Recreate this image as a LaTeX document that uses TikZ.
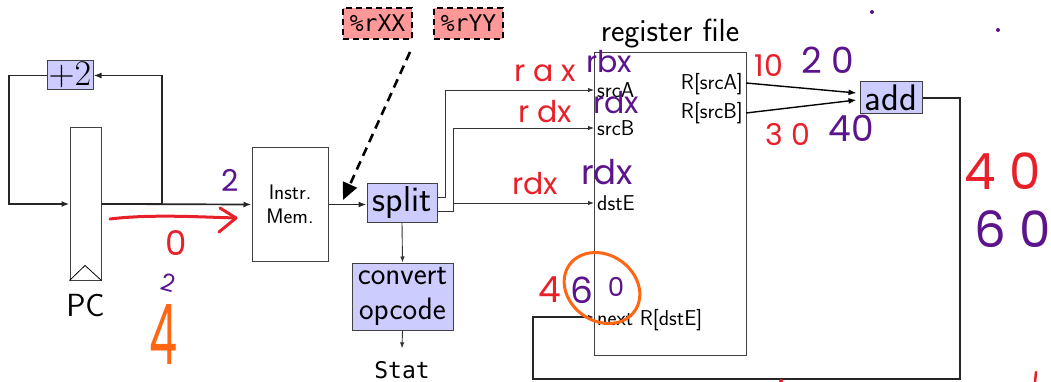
\documentclass[tikz,border=0pt]{standalone}
\usepackage{fontspec}
\setmonofont{DejaVu Sans Mono}
\newfontfamily\handfont{Poppins}
\usetikzlibrary{arrows.meta,calc,shapes.geometric}
\definecolor{boxblue}{RGB}{204,204,255}
\definecolor{boxpink}{RGB}{255,153,153}
\definecolor{hred}{RGB}{232,32,42}
\definecolor{hpurple}{RGB}{92,20,140}
\definecolor{horange}{RGB}{255,102,20}
\begin{document}
\begin{tikzpicture}[x=1pt,y=-1pt,
  blk/.style={draw=black!75, line width=1pt, inner sep=0pt},
  bluebox/.style={blk, fill=boxblue},
  pinkbox/.style={draw, dash pattern=on 6pt off 4pt, line width=1.5pt, fill=boxpink, minimum width=69pt, minimum height=31pt, inner sep=0pt, font=\ttfamily\fontsize{23}{23}\selectfont},
  wire/.style={line width=1.7pt, draw=black!85},
  thinwire/.style={line width=0.9pt, draw=black!80},
  arr/.style={-{Latex[length=8pt,width=6pt]}},
  sarr/.style={-{Latex[length=6pt,width=4.5pt]}},
  port/.style={font=\sffamily\fontsize{21.5}{21.5}\selectfont, inner sep=0pt},
  hand/.style={font=\handfont\fontsize{30}{30}\selectfont, inner sep=0pt},
]
\useasboundingbox (0,0) rectangle (1051,382);

% ---- blocks ----
\node[bluebox, minimum width=46pt, minimum height=29pt, font=\fontsize{24.88}{26}\selectfont] (plus) at (70,75.5) {\scalebox{1.45}{$+2$}};
\node[blk, minimum width=31pt, minimum height=152pt] (pc) at (85.5,204) {};
\draw[line width=0.8pt] (pc.south west) -- ++(15.5,-15) -- (pc.south east);
\node[font=\sffamily\fontsize{32}{32}\selectfont, anchor=base] (pclabel) at (85.5,316) {PC};

\node[blk, minimum width=76pt, minimum height=113pt, align=center, font=\sffamily\fontsize{21}{24}\selectfont] (imem) at (290,204.5) {Instr.\\Mem.};

\node[bluebox, minimum width=70pt, minimum height=38pt, font=\sffamily\fontsize{36}{36}\selectfont] (split) at (402,203) {split};
\node[bluebox, minimum width=101pt, minimum height=67pt, align=center, font=\sffamily\fontsize{31}{35}\selectfont] (conv) at (402.5,296.5) {convert\\opcode};
\node[font=\ttfamily\fontsize{23}{23}\selectfont, anchor=base] (stat) at (402,378) {Stat};

\node[pinkbox] (rxx) at (377.5,23.5) {\%rXX};
\node[pinkbox] (ryy) at (468.5,23.5) {\%rYY};

\node[blk, minimum width=152pt, minimum height=302pt] (rf) at (670,204) {};
\node[font=\sffamily\fontsize{32}{32}\selectfont, anchor=base] (rflabel) at (670,42) {register file};

\node[port, anchor=base west] (srcA) at (597,98) {srcA};
\node[port, anchor=base west] (srcB) at (597,136) {srcB};
\node[port, anchor=base west] (dstE) at (597,211) {dstE};
\node[port, anchor=base west] (nextR) at (597,325) {next R[dstE]};
\node[port, anchor=base east] (outA) at (743,90) {R[srcA]};
\node[port, anchor=base east] (outB) at (743,119) {R[srcB]};

\coordinate (inA) at (594,90);
\coordinate (inB) at (594,128);
\coordinate (inE) at (594,203);
\coordinate (inN) at (594,317);
\coordinate (oA) at (746,83);
\coordinate (oB) at (746,113);

\node[bluebox, minimum width=62pt, minimum height=32pt, font=\sffamily\fontsize{37}{37}\selectfont] (add) at (891,98) {add};

% ---- wires ----
\draw[wire, arr] (plus.west) -- (9,75.5) -- (9,204) -- (pc.west);
\draw[wire, arr] (pc.east) -- (162,204) -- (162,75.5) -- (plus.east);
\draw[wire, arr] (pc.east) -- (imem.west);
\draw[wire, arr] (imem.east) -- (imem.east -| split.west);

\coordinate (regsrc) at (410,52);
\draw[line width=2.6pt, dash pattern=on 9pt off 6pt, -{Triangle[length=17pt,width=15pt]}] (regsrc) -- (343,200);

\draw[thinwire, sarr] ($(split.east)+(0,-6)$) -- (445,197) -- (445,90) -- (inA);
\draw[thinwire, sarr] ($(split.east)+(0,8)$) -- (453,211) -- (453,128) -- (inB);
\draw[thinwire, sarr] (453,203) -- (inE);

\draw[thinwire, sarr] (split.south) -- (conv.north);
\draw[thinwire, sarr] (conv.south) -- ($(stat.north)+(0,-9)$);

\draw[line width=1.4pt, arr] (oA) -- ($(add.west)+(-3,-5)$);
\draw[line width=1.4pt, arr] (oB) -- ($(add.west)+(-3,2)$);

\draw[wire, sarr] (add.east) -- (960,98) -- (960,379) -- (533,379) -- (533,317) -- (inN);

% ---- handwritten annotations ----
\node[hand, text=hpurple] (h1) at (230,180) {2};
\draw[hred, line width=3pt, line cap=round, line join=round] (110,219) .. controls (150,214) and (200,217) .. (236,218);
\draw[hred, line width=3pt, line cap=round, line join=round] (220,208) -- (236,218) -- (219,232);
\node[hand, text=hred] (h2) at (176,243) {\fontsize{34}{34}\selectfont 0};
\node[hand, text=hpurple, rotate=-15] (h3) at (168,283) {\fontsize{24}{24}\selectfont 2};
\node[hand, text=horange] (h4) at (163,334) {\resizebox{28pt}{60pt}{4}};

\node[hand, text=hred] (h5) at (545,73) {r a x};
\node[hand, text=hpurple] (h6) at (609,62) {rbx};
\node[hand, text=hred] (h7) at (545,112) {r dx};
\node[hand, text=hpurple] (h8) at (616,103) {rdx};
\node[hand, text=hred] (h9) at (535,184) {rdx};
\node[hand, text=hpurple] (h10) at (607,172) {\fontsize{34}{34}\selectfont rdx};

\node[hand, text=hred] (h11) at (550,290) {\fontsize{36}{36}\selectfont 4};
\node[hand, text=hpurple] (h12) at (582,290) {\fontsize{36}{36}\selectfont 6};
\node[hand, text=hpurple] (h13) at (616,287) {\fontsize{26}{26}\selectfont 0};
\draw[horange, line width=3pt, rotate around={-35:(602,288)}] (602,288) ellipse (40pt and 33pt);

\node[hand, text=hred] (h14) at (769,65) {\fontsize{30}{30}\selectfont 10};
\node[hand, text=hpurple] (h15) at (828,60) {\fontsize{36}{36}\selectfont 2 0};
\node[hand, text=hred] (h16) at (788,135) {\fontsize{30}{30}\selectfont 3 0};
\node[hand, text=hpurple] (h17) at (851,128) {\fontsize{36}{36}\selectfont 40};
\node[hand, text=hred] (h18) at (1003,171) {\fontsize{50}{50}\selectfont 4 0};
\node[hand, text=hpurple] (h19) at (1013,229) {\fontsize{50}{50}\selectfont 6 0};

\fill[hpurple] (872,12) circle (2pt);
\fill[hpurple] (998,30) circle (2pt);
\draw[hred, line width=2.5pt, line cap=round] (1036,372) -- (1035,382);
\fill[hred] (781,381) circle (2pt);
\end{tikzpicture}
\end{document}
